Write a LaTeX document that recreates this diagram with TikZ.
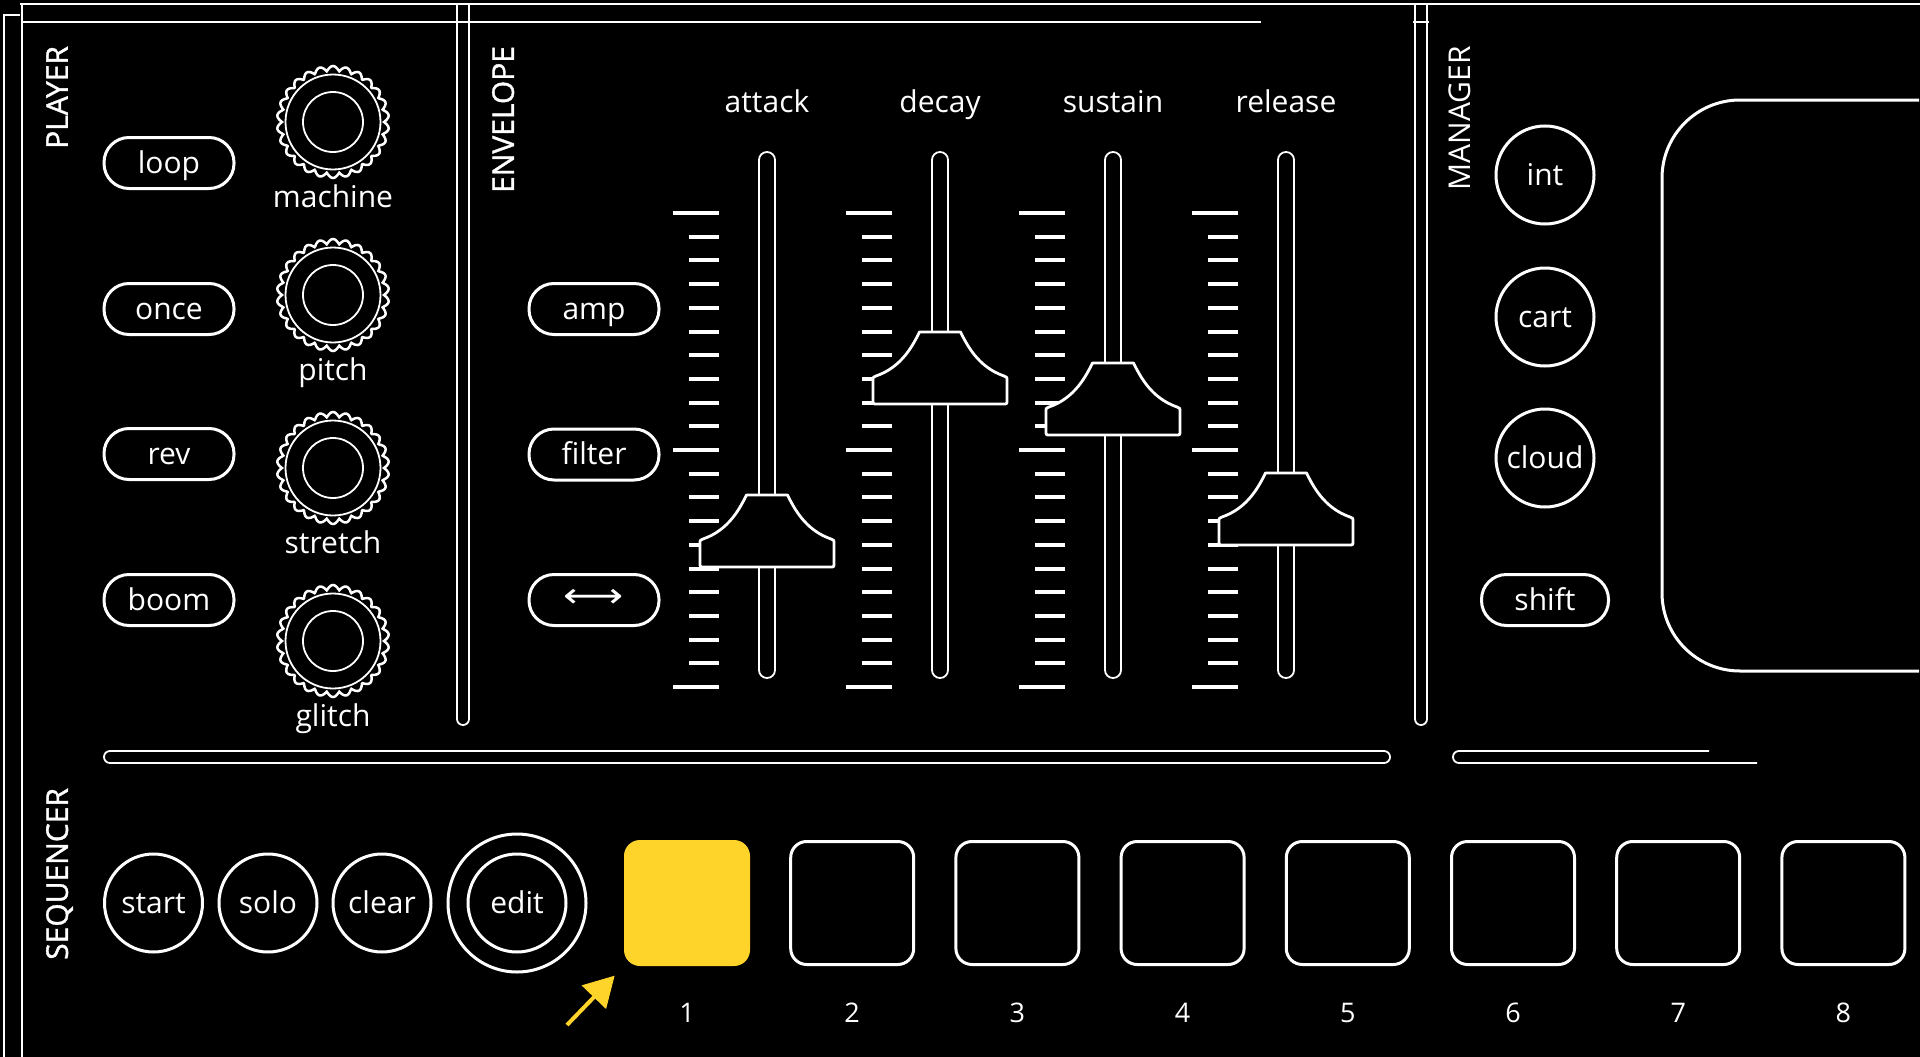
\documentclass[tikz,border=0pt]{standalone}
\usepackage{fontspec}
\setmainfont{Open Sans}
\newfontfamily\headfont[FakeBold=1.2]{Open Sans}
\newfontfamily\symfont{DejaVu Sans}
\usetikzlibrary{arrows.meta,shapes.geometric}
\definecolor{stepyellow}{HTML}{FFD42A}
\newcommand{\panelfont}{\fontsize{30}{36}\selectfont}
\newcommand{\digitfont}{\fontsize{27}{32}\selectfont}

\begin{document}
\begin{tikzpicture}[x=1pt,y=-1pt,white,line width=2pt,
    pill/.style={draw,line width=3pt,rounded corners=25pt,minimum width=130pt,minimum height=51pt,inner sep=0pt,text height=25pt,text depth=5pt,font=\panelfont},
    btn/.style={draw,line width=3pt,circle,minimum size=98pt,inner sep=0pt,text height=25pt,text depth=5pt,font=\panelfont},
    lbl/.style={inner sep=0pt,anchor=base,font=\panelfont},
    section/.style={rotate=90,anchor=east,inner sep=0pt,text depth=0pt,font=\panelfont\headfont},
    stepbox/.style={draw,line width=3pt,rounded corners=16pt,minimum size=123pt,inner sep=0pt},
    stepon/.style={fill=stepyellow,rounded corners=16pt,minimum size=126pt,inner sep=0pt}]
    \fill[black] (0,0) rectangle (1920,1057);
    \useasboundingbox (0,0) rectangle (1920,1057);

    % frame and dividers
    \draw (20,4) -- (1920,4);
    \draw (22,4) -- (22,1057);
    \draw (20,15) -- (4,15) -- (4,1057);
    \draw[line width=1.5pt] (22,22) -- (1261,22);
    \draw[line width=1.5pt] (1413,22) -- (1429,22);
    \draw[line width=1.8pt,rounded corners=5.9pt] (457,4) -- (457,725) -- (469,725) -- (469,4);
    \draw[line width=1.8pt,rounded corners=5.9pt] (1415,4) -- (1415,725) -- (1427,725) -- (1427,4);
    \draw[line width=1.8pt,rounded corners=5.9pt] (104,751) rectangle (1390,763);
    \draw[line width=1.8pt,rounded corners=5.9pt] (1709,751) -- (1453,751) -- (1453,763) -- (1757,763);

    \node[section] (player) at (57,45) {PLAYER};
    \node[section] (envelope) at (503,45) {ENVELOPE};
    \node[section,font=\panelfont] (manager) at (1460,45) {MANAGER};
    \node[section] (sequencer) at (57,787) {SEQUENCER};

    % player
    \foreach \py/\pname in {163/loop,309/once,454/rev,600/boom}
        \node[pill] (play-\pname) at (169,\py) {\pname};
    \foreach \ky/\kname in {122/machine,295/pitch,468/stretch,641/glitch}{
        \draw[line width=2.5pt] plot[domain=0:360,samples=361] ({333+(51+5*abs(sin(13*\x)))*cos(\x)},{\ky+(51+5*abs(sin(13*\x)))*sin(\x)}) -- cycle;
        \draw[line width=1.8pt] (333,\ky) circle (47.5);
        \draw[line width=1.8pt] (333,\ky) circle (30);
        \node[lbl] (knob-\kname) at (333,\ky+85) {\kname};
    }

    % envelope
    \node[pill] (env-amp) at (594,309) {amp};
    \node[pill] (env-filter) at (594,454.5) {filter};
    \node[pill,text height=22pt,text depth=8pt] (env-link) at (594,600) {\scalebox{1.4}[1.15]{\symfont ⟷}};
    \foreach \sx/\sname/\ct in {767/attack/495,940/decay/332,1113/sustain/363,1286/release/473}{
        \node[lbl] (fader-\sname) at (\sx,112) {\sname};
        \foreach \t in {0,...,20}
            \draw[line width=4pt] (\sx-78,213+23.7*\t) -- (\sx-48,213+23.7*\t);
        \foreach \t in {0,10,20}
            \draw[line width=4pt] (\sx-94,213+23.7*\t) -- (\sx-48,213+23.7*\t);
        \draw[line width=1.8pt,rounded corners=7.9pt] (\sx-8,152) rectangle (\sx+8,678);
        \draw[fill=black,line width=2.8pt,line join=round] (\sx-20.5,\ct) -- (\sx+20.5,\ct)
            .. controls (\sx+27,\ct+13) and (\sx+38,\ct+35) .. (\sx+64,\ct+44)
            .. controls (\sx+67,\ct+45) .. (\sx+67,\ct+49) -- (\sx+67,\ct+68)
            .. controls (\sx+67,\ct+72) .. (\sx+63,\ct+72) -- (\sx-63,\ct+72)
            .. controls (\sx-67,\ct+72) .. (\sx-67,\ct+68) -- (\sx-67,\ct+49)
            .. controls (\sx-67,\ct+45) .. (\sx-64,\ct+44)
            .. controls (\sx-38,\ct+35) and (\sx-27,\ct+13) .. (\sx-20.5,\ct) -- cycle;
    }

    % manager
    \foreach \my/\mname in {175/int,317/cart,458/cloud}
        \node[btn] (mgr-\mname) at (1545,\my) {\mname};
    \node[pill,minimum width=127pt] (mgr-shift) at (1545,600) {shift};
    \draw[line width=3pt,rounded corners=78pt] (1919,100) -- (1662,100) -- (1662,671) -- (1919,671);

    % sequencer
    \foreach \bx/\bname in {153.5/start,268/solo,382/clear}
        \node[btn] (seq-\bname) at (\bx,903) {\bname};
    \node[btn] (seq-edit) at (517,903) {edit};
    \draw[line width=3pt] (seq-edit.center) circle (69);
    \foreach \n/\kind in {1/stepon,2/stepbox,3/stepbox,4/stepbox,5/stepbox,6/stepbox,7/stepbox,8/stepbox}{
        \node[\kind] (step\n) at ({687+165.2*(\n-1)},903) {};
        \node[inner sep=0pt,anchor=base,font=\digitfont] (num\n) at ({687+165.2*(\n-1)},1022) {\n};
    }
    \coordinate (arrowtail) at (567,1025);
    \draw[stepyellow,line width=4pt,-{Triangle[length=30pt,width=33pt]},shorten >=12pt] (arrowtail) -- (step1.south west);
\end{tikzpicture}
\end{document}
